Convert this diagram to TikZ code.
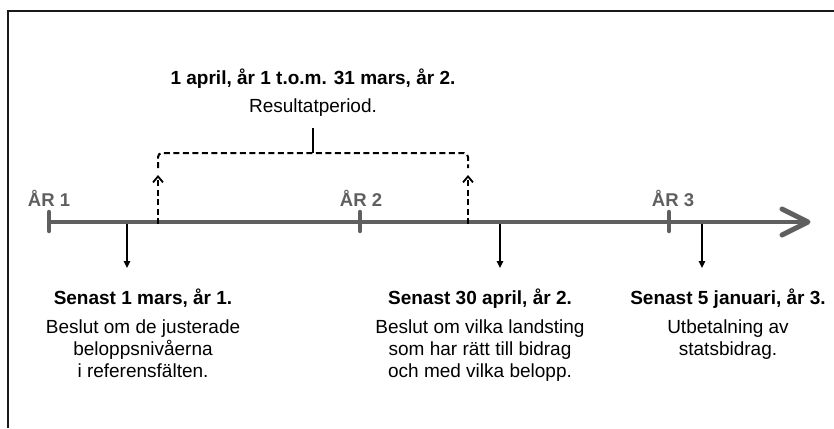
\documentclass[tikz,border=0pt]{standalone}
\usepackage{fontspec}
\setmainfont{Liberation Sans}
\usetikzlibrary{arrows.meta}
\definecolor{axisgray}{HTML}{5F5F5F}
\definecolor{framegray}{HTML}{1A1A1A}
\begin{document}
\begin{tikzpicture}[x=1pt,y=-1pt,
  txt/.style={inner sep=0pt,font=\fontsize{19}{22}\selectfont},
  head/.style={txt,font=\fontsize{19}{22}\selectfont\bfseries,anchor=base},
  body/.style={txt,align=center,anchor=north},
  yearlbl/.style={inner sep=0pt,anchor=base,text=axisgray,font=\fontsize{18.5}{22}\selectfont\bfseries},
  axis/.style={draw=axisgray,line width=4.5pt},
  tickmark/.style={draw=axisgray,line width=4.5pt,line cap=round},
  downarrow/.style={draw=black,line width=1.5pt,-{Triangle[length=7pt,width=6.5pt]}},
  period/.style={draw=black,line width=2pt,dash pattern=on 6pt off 3.5pt},
  uparrow/.style={period,-{Straight Barb[length=6pt,width=10pt,line width=1.8pt]}}]
\useasboundingbox (0,0) rectangle (834,428);
% outer frame (open to the right and bottom)
\draw[framegray,line width=1.2pt] (8,428) -- (8,11) -- (834,11);

% time axis
\coordinate (start) at (49,222);
\coordinate (tip) at (808,222);
\draw[axis] (start) -- (tip);
\draw[axisgray,line width=5pt,line cap=round,line join=round] (782,209) -- (tip) -- (782,235);
\draw[tickmark] (49,212) -- (49,231);
\draw[tickmark] (360,212) -- (360,231);
\draw[tickmark] (669,212) -- (669,231);

% year labels
\node[yearlbl] (y1) at (49,206.5) {ÅR 1};
\node[yearlbl] (y2) at (361,206.5) {ÅR 2};
\node[yearlbl] (y3) at (673,206.5) {ÅR 3};

% result period bracket
\coordinate (pa) at (158,224);
\coordinate (pb) at (468,224);
\coordinate (pat) at (158,175);
\coordinate (pbt) at (468,175);
\coordinate (ba) at (158,168);
\coordinate (bb) at (468,168);
\coordinate (bm) at (313,153);
\coordinate (bt) at (313,128);
\draw[uparrow] (pa) -- (pat);
\draw[uparrow] (pb) -- (pbt);
\draw[period,rounded corners=4pt] (ba) -- (158,153) -- (468,153) -- (bb);
\draw[black,line width=2pt] (bt) -- (bm);
\node[head] (ptitle) at (313,84) {1 april, år 1 t.o.m. 31 mars, år 2.};
\node[txt,anchor=base] (pbody) at (313,112) {Resultatperiod.};

% deadlines
\coordinate (d1) at (127,224);
\coordinate (d2) at (500,224);
\coordinate (d3) at (702,224);
\coordinate (e1) at (127,268);
\coordinate (e2) at (500,268);
\coordinate (e3) at (702,268);
\draw[downarrow] (d1) -- (e1);
\draw[downarrow] (d2) -- (e2);
\draw[downarrow] (d3) -- (e3);

\node[head] (h1) at (143,304) {Senast 1 mars, år 1.};
\node[body] (b1) at (143,320) {Beslut om de justerade\\beloppsnivåerna\\i referensfälten.};
\node[head] (h2) at (480,304) {Senast 30 april, år 2.};
\node[body] (b2) at (480,320) {Beslut om vilka landsting\\som har rätt till bidrag\\och med vilka belopp.};
\node[head] (h3) at (728,304) {Senast 5 januari, år 3.};
\node[body] (b3) at (728,320) {Utbetalning av\\statsbidrag.};
\end{tikzpicture}
\end{document}
